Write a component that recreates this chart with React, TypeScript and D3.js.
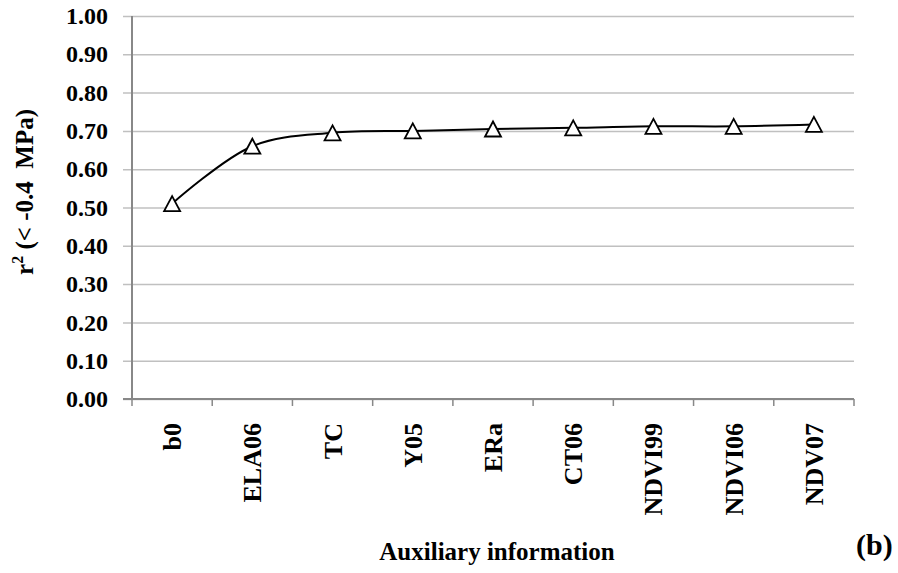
import * as d3 from "d3";
import { useEffect, useRef } from "react";

const categories = ["b0", "ELA06", "TC", "Y05", "ERa", "CT06", "NDVI99", "NDVI06", "NDV07"];
const r2Values = [0.51, 0.66, 0.695, 0.7, 0.705, 0.708, 0.712, 0.712, 0.717];
const yTicks = [0, 0.1, 0.2, 0.3, 0.4, 0.5, 0.6, 0.7, 0.8, 0.9, 1.0];

const FONT = "'Liberation Serif', 'Times New Roman', serif";

export default function App() {
  const ref = useRef<SVGSVGElement | null>(null);

  useEffect(() => {
    document.body.style.margin = "0";
    const el = ref.current;
    if (!el) return;
    const svg = d3.select(el);
    svg.selectAll("*").remove();

    const W = 898;
    const H = 573;
    const margin = { top: 16, right: 44, bottom: 174, left: 132 };
    const iw = W - margin.left - margin.right;
    const ih = H - margin.top - margin.bottom;

    const x = d3.scaleBand().domain(categories).range([0, iw]).padding(0);
    const y = d3.scaleLinear().domain([0, 1]).range([ih, 0]);

    const gridColor = "#c0c0c0";
    const axisColor = "#888888";

    svg.attr("width", W).attr("height", H).attr("viewBox", `0 0 ${W} ${H}`);
    svg.append("rect").attr("width", W).attr("height", H).attr("fill", "#fff");

    const g = svg.append("g").attr("transform", `translate(${margin.left},${margin.top})`);

    // y axis with gridlines
    g.append("g")
      .call(
        d3
          .axisLeft(y)
          .tickValues(yTicks)
          .tickFormat((v) => d3.format(".2f")(v as number))
          .tickSizeInner(-iw)
          .tickSizeOuter(0)
          .tickPadding(6),
      )
      .call((ga) => ga.select(".domain").remove())
      .call((ga) =>
        ga
          .selectAll(".tick line")
          .attr("x1", -9)
          .attr("stroke", gridColor)
          .attr("stroke-width", 1.5),
      )
      .call((ga) =>
        ga
          .selectAll(".tick text")
          .attr("x", -24)
          .attr("fill", "#000")
          .attr("font-family", FONT)
          .attr("font-weight", "bold")
          .attr("font-size", 24),
      );

    // vertical axis line
    g.append("line")
      .attr("x1", 0)
      .attr("x2", 0)
      .attr("y1", 0)
      .attr("y2", ih)
      .attr("stroke", axisColor)
      .attr("stroke-width", 2);

    // x axis: ticks at category boundaries
    const bounds = categories.map((c) => x(c) ?? 0).concat([iw]);
    const xa = g.append("g").attr("transform", `translate(0,${ih})`);
    xa.append("line")
      .attr("x1", -9)
      .attr("x2", iw)
      .attr("stroke", axisColor)
      .attr("stroke-width", 2);
    xa.selectAll("line.tk")
      .data(bounds)
      .join("line")
      .attr("class", "tk")
      .attr("x1", (d) => d)
      .attr("x2", (d) => d)
      .attr("y1", 0)
      .attr("y2", 7)
      .attr("stroke", axisColor)
      .attr("stroke-width", 1.5);
    xa.selectAll("text.lbl")
      .data(categories)
      .join("text")
      .attr("class", "lbl")
      .attr("transform", (d) => `translate(${(x(d) ?? 0) + x.bandwidth() / 2 + 9},24) rotate(-90)`)
      .attr("text-anchor", "end")
      .attr("font-family", FONT)
      .attr("font-weight", "bold")
      .attr("font-size", 26)
      .attr("fill", "#000")
      .text((d) => d);

    // smoothed line
    const pts: [number, number][] = categories.map((c, i) => [
      (x(c) ?? 0) + x.bandwidth() / 2,
      y(r2Values[i]),
    ]);
    const line = d3.line().curve(d3.curveCatmullRom.alpha(0.5));
    g.append("path")
      .attr("d", line(pts))
      .attr("fill", "none")
      .attr("stroke", "#000")
      .attr("stroke-width", 2);

    // triangle markers
    const tri = "M0,-7.5L8,7.5L-8,7.5Z";
    g.selectAll("path.mk")
      .data(pts)
      .join("path")
      .attr("class", "mk")
      .attr("transform", (d) => `translate(${d[0]},${d[1]})`)
      .attr("d", tri)
      .attr("fill", "#fff")
      .attr("stroke", "#000")
      .attr("stroke-width", 1.8);

    // y axis title
    const yt = svg
      .append("text")
      .attr("transform", `translate(33,${192}) rotate(-90)`)
      .attr("text-anchor", "middle")
      .attr("font-family", FONT)
      .attr("font-weight", "bold")
      .attr("font-size", 25)
      .attr("fill", "#000");
    yt.append("tspan").text("r");
    yt.append("tspan").attr("font-size", 16).attr("dy", -10).text("2");
    yt.append("tspan").attr("dy", 10).text("\u00a0(< -0.4 \u00a0MPa)");

    // x axis title
    svg
      .append("text")
      .attr("x", margin.left + iw / 2 + 4)
      .attr("y", 560)
      .attr("text-anchor", "middle")
      .attr("font-family", FONT)
      .attr("font-weight", "bold")
      .attr("font-size", 25)
      .attr("fill", "#000")
      .text("Auxiliary information");

    svg
      .append("text")
      .attr("x", 856)
      .attr("y", 555)
      .attr("font-family", FONT)
      .attr("font-weight", "bold")
      .attr("font-size", 30)
      .attr("fill", "#000")
      .text("(b)");
  }, []);

  return <svg ref={ref} style={{ display: "block" }} />;
}
